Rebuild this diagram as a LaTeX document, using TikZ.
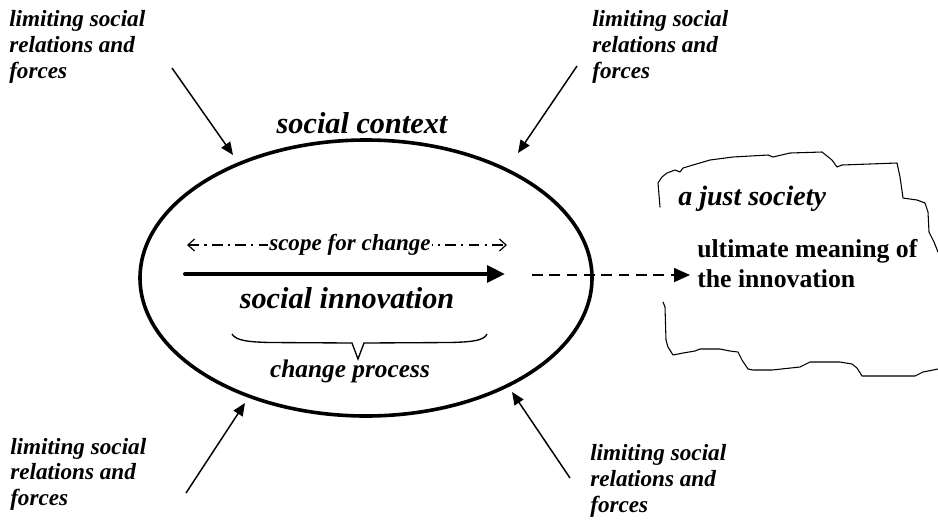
\documentclass[tikz,border=0pt]{standalone}
\usepackage{fontspec}
\setmainfont{Liberation Serif}
\usetikzlibrary{arrows.meta,shapes.geometric}
\begin{document}
\begin{tikzpicture}[x=0.75pt,y=-0.75pt,
  lim/.style={anchor=base west,inner sep=0pt,font=\bfseries\itshape\fontsize{17.4}{19}\selectfont},
  bigit/.style={anchor=base,inner sep=0pt,font=\bfseries\itshape\fontsize{22.7}{27}\selectfont},
  thinarrow/.style={line width=1.1pt,-{Triangle[length=9.5pt,width=8pt]}},
  cloudline/.style={line width=0.8pt,line join=round,line cap=round},
]
\useasboundingbox (0,0) rectangle (938,519);
\fill[white] (0,0) rectangle (938,519);

% social context ellipse
\node[ellipse, draw, line width=2.7pt, minimum width=339pt, minimum height=207pt, inner sep=0pt] (ctx) at (366,278) {};
\node[bigit] (sctx) at (362,133) {social context};

% limiting texts
\node[lim] (tl1) at (9,26) {limiting social};
\node[lim] (tl2) at (9,52) {relations and};
\node[lim] (tl3) at (9,78) {forces};
\node[lim] (tr1) at (592,26) {limiting social};
\node[lim] (tr2) at (592,52) {relations and};
\node[lim] (tr3) at (592,78) {forces};
\node[lim] (bl1) at (10,454) {limiting social};
\node[lim] (bl2) at (10,479) {relations and};
\node[lim] (bl3) at (10,505) {forces};
\node[lim] (br1) at (590,460) {limiting social};
\node[lim] (br2) at (590,486) {relations and};
\node[lim] (br3) at (590,512) {forces};

% arrows towards the ellipse
\coordinate (tla) at (172,68);  \coordinate (tlb) at (233,155);
\coordinate (tra) at (577,66);  \coordinate (trb) at (518,153);
\coordinate (bla) at (186,493); \coordinate (blb) at (245,403);
\coordinate (bra) at (570,478); \coordinate (brb) at (512,392);
\draw[thinarrow] (tla) -- (tlb);
\draw[thinarrow] (tra) -- (trb);
\draw[thinarrow] (bla) -- (blb);
\draw[thinarrow] (bra) -- (brb);

% scope for change
\coordinate (sc0) at (187,245);
\coordinate (sc1) at (507,245);
\draw[line width=0.9pt, dash pattern=on 8pt off 4pt on 1.5pt off 4pt,
  {Straight Barb[length=5pt,width=9pt]}-{Straight Barb[length=5pt,width=9pt]}] (sc0) -- (sc1);
\node[anchor=base,fill=white,inner xsep=1pt,inner ysep=1pt,font=\bfseries\itshape\fontsize{17.3}{19}\selectfont] (scope) at (350,250) {scope for change};

% social innovation arrow
\coordinate (si0) at (185,274);
\coordinate (si1) at (505,274);
\draw[line width=3pt, line cap=round, -{Triangle[length=13.5pt,width=12.5pt]}] (si0) -- (si1);
\node[bigit] (sinn) at (347,308) {social innovation};

% brace and change process
\draw[line width=1pt] (232,334) .. controls (236,341) and (250,342) .. (270,342.5) -- (352,343) -- (358,359) -- (364,343) -- (450,342.5) .. controls (470,342) and (484,341) .. (487,334);
\node[anchor=base,inner sep=0pt,font=\bfseries\itshape\fontsize{19}{22}\selectfont] (chg) at (350,377) {change process};

% dashed arrow to the just society
\coordinate (d0) at (532,275);
\coordinate (d1) at (690,275);
\draw[line width=1.2pt, dash pattern=on 8pt off 5pt, -{Triangle[length=12pt,width=10.5pt]}] (d0) -- (d1);

% cloud
\draw[cloudline] (660,207) -- (658,183) -- (662,177) -- (667,173) -- (675,170) -- (680,172) -- (683,168) -- (693,165) -- (710,160) -- (733,157) -- (768,155) -- (773,157) -- (790,153) -- (822,152) -- (832,160) -- (837,167) -- (842,165) -- (897,163) -- (900,177) -- (903,198) -- (917,200) -- (925,203) -- (928,212) -- (929,232) -- (934,242) -- (938,252);
\draw[cloudline] (663,302) -- (665,307) -- (666,340) -- (668,347) -- (673,355) -- (683,353) -- (695,351) -- (700,349) -- (720,349) -- (730,351) -- (738,352) -- (742,360) -- (748,369) -- (753,370) -- (772,370) -- (800,367) -- (810,362) -- (840,362) -- (852,364) -- (857,368) -- (862,376) -- (915,376) -- (923,372) -- (938,369);

\node[anchor=base west,inner sep=0pt,font=\bfseries\itshape\fontsize{21}{25}\selectfont] (just) at (678,205) {a just society};
\node[anchor=base west,inner sep=0pt,font=\bfseries\fontsize{19.3}{23}\selectfont] (um1) at (697,257) {ultimate meaning of};
\node[anchor=base west,inner sep=0pt,font=\bfseries\fontsize{19.3}{23}\selectfont] (um2) at (697,287) {the innovation};
\end{tikzpicture}
\end{document}
